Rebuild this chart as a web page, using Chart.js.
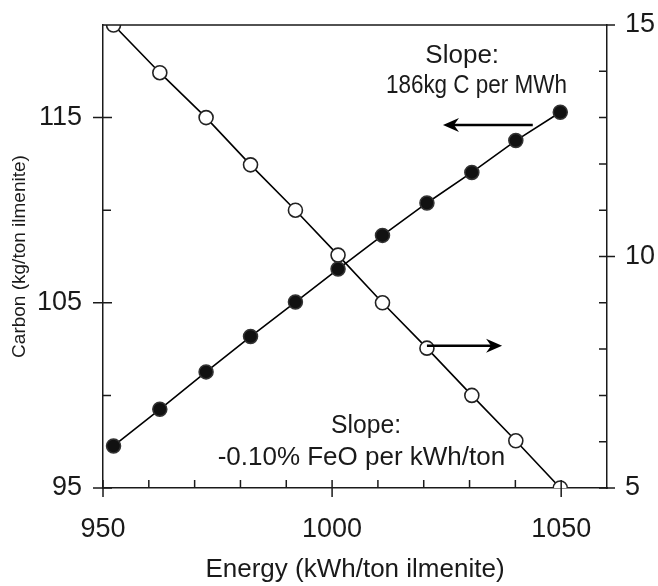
<!DOCTYPE html>
<html>
<head>
<meta charset="utf-8">
<script src="https://cdn.jsdelivr.net/npm/chart.js@4.4.1/dist/chart.umd.min.js"></script>
<style>
  html, body { margin: 0; padding: 0; background: #fff; }
  #wrap { width: 658px; height: 586px; }
</style>
</head>
<body>
<div id="wrap"><canvas id="c" width="658" height="586"></canvas></div>
<script>
// ---- data ----
const energy = [952.3, 962.4, 972.5, 982.2, 992.0, 1001.3, 1011.0, 1020.7, 1030.5, 1040.1, 1049.8];
const carbon = [97.27, 99.25, 101.27, 103.18, 105.04, 106.82, 108.64, 110.39, 112.04, 113.76, 115.29];
const feo = [15.0, 13.97, 13.0, 11.98, 11.0, 10.03, 9.0, 8.02, 7.0, 6.02, 5.0];

const xTicks = [950, 1000, 1050];
const xMinorTicks = [960, 970, 980, 990, 1010, 1020, 1030, 1040];
const leftTicks = [95, 105, 115];
const leftMinorTicks = [100, 110];
const rightTicks = [5, 10, 15];
const rightMinorTicks = [6, 7, 8, 9, 11, 12, 13, 14];

const xTitle = 'Energy (kWh/ton ilmenite)';
const leftTitle = 'Carbon (kg/ton ilmenite)';

// annotation texts: [text, x value, left-axis y value (baseline), max width]
const notes = [
  ['Slope:', 1028.4, 117.95, null],
  ['186kg C per MWh', 1031.5, 116.33, 181],
  ['Slope:', 1007.4, 97.97, 70],
  ['-0.10% FeO per kWh/ton', 1006.4, 96.24, null]
];
// arrows: [x from, x to, y value, axis]
const arrows = [
  [1043.8, 1024.2, 114.6, 'y'],
  [1020.7, 1037.1, 8.07, 'y2']
];

const FONT = "'Liberation Sans', Arial, sans-serif";
const INK = '#1a1a1a';

const points = (ys) => energy.map((x, i) => ({ x: x, y: ys[i] }));

const decor = {
  id: 'decor',
  afterDraw(chart) {
    const ctx = chart.ctx;
    const ca = chart.chartArea;
    const xs = chart.scales.x, ys = chart.scales.y, y2 = chart.scales.y2;
    ctx.save();
    ctx.strokeStyle = INK;
    ctx.lineWidth = 1.5;
    ctx.beginPath();
    ctx.moveTo(ca.left, ca.top); ctx.lineTo(ca.right, ca.top);
    xTicks.forEach(v => { const p = xs.getPixelForValue(v); ctx.moveTo(p, ca.bottom - 8); ctx.lineTo(p, ca.bottom + 9); });
    xMinorTicks.forEach(v => { const p = xs.getPixelForValue(v); ctx.moveTo(p, ca.bottom - 8); ctx.lineTo(p, ca.bottom); });
    leftTicks.forEach(v => { const p = ys.getPixelForValue(v); ctx.moveTo(ca.left - 10, p); ctx.lineTo(ca.left + 9, p); });
    leftMinorTicks.forEach(v => { const p = ys.getPixelForValue(v); ctx.moveTo(ca.left, p); ctx.lineTo(ca.left + 8, p); });
    rightTicks.forEach(v => { const p = y2.getPixelForValue(v); ctx.moveTo(ca.right - 8, p); ctx.lineTo(ca.right + 8, p); });
    rightMinorTicks.forEach(v => { const p = y2.getPixelForValue(v); ctx.moveTo(ca.right - 8, p); ctx.lineTo(ca.right, p); });
    ctx.stroke();

    ctx.fillStyle = '#000';
    ctx.strokeStyle = '#000';
    arrows.forEach(a => {
      const sc = chart.scales[a[3]];
      const x1 = xs.getPixelForValue(a[0]), x2 = xs.getPixelForValue(a[1]);
      const y = sc.getPixelForValue(a[2]);
      const dir = Math.sign(x2 - x1);
      ctx.lineWidth = 2.5;
      ctx.beginPath();
      ctx.moveTo(x1, y); ctx.lineTo(x2 - dir * 8, y);
      ctx.stroke();
      ctx.beginPath();
      ctx.moveTo(x2, y);
      ctx.lineTo(x2 - dir * 16, y - 7);
      ctx.lineTo(x2 - dir * 11, y);
      ctx.lineTo(x2 - dir * 16, y + 7);
      ctx.closePath();
      ctx.fill();
    });

    ctx.fillStyle = INK;
    ctx.font = '26px ' + FONT;
    ctx.textAlign = 'center';
    ctx.textBaseline = 'alphabetic';
    notes.forEach(n => {
      const x = xs.getPixelForValue(n[1]);
      const y = ys.getPixelForValue(n[2]);
      if (n[3]) ctx.fillText(n[0], x, y, n[3]); else ctx.fillText(n[0], x, y);
    });
    ctx.restore();
  }
};

const setTicks = (arr) => (s) => { s.ticks = arr.map(v => ({ value: v })); };
const plain = (v) => String(v);

new Chart(document.getElementById('c'), {
  type: 'scatter',
  data: {
    datasets: [
      {
        label: 'Carbon',
        data: points(carbon),
        yAxisID: 'y',
        showLine: true,
        borderColor: '#000',
        borderWidth: 1.6,
        pointRadius: 7,
        pointBackgroundColor: '#111',
        pointBorderColor: '#333',
        pointBorderWidth: 1.5
      },
      {
        label: 'FeO',
        data: points(feo),
        yAxisID: 'y2',
        showLine: true,
        borderColor: '#000',
        borderWidth: 1.6,
        pointRadius: 7,
        pointBackgroundColor: '#fff',
        pointBorderColor: '#222',
        pointBorderWidth: 1.6
      }
    ]
  },
  options: {
    responsive: false,
    animation: false,
    layout: { padding: { top: 25, left: 0, right: 0, bottom: 0 } },
    plugins: { legend: { display: false }, tooltip: { enabled: false } },
    scales: {
      x: {
        type: 'linear',
        position: 'bottom',
        min: 950, max: 1060,
        afterBuildTicks: setTicks(xTicks),
        afterFit: (s) => { s.height = 98; s.paddingLeft = 0; s.paddingRight = 0; },
        grid: { display: true, drawOnChartArea: false, drawTicks: false },
        border: { display: true, color: INK, width: 1.5 },
        ticks: { color: INK, font: { family: FONT, size: 27 }, padding: 25, maxRotation: 0, callback: plain },
        title: { display: true, text: xTitle, color: INK, font: { family: FONT, size: 26 }, padding: { top: 0, bottom: 1 } }
      },
      y: {
        type: 'linear',
        position: 'left',
        min: 95, max: 120,
        afterBuildTicks: setTicks(leftTicks),
        afterFit: (s) => { s.width = 103; s.paddingTop = 0; s.paddingBottom = 0; },
        grid: { display: true, drawOnChartArea: false, drawTicks: false },
        border: { display: true, color: INK, width: 1.5 },
        ticks: { color: INK, font: { family: FONT, size: 27 }, padding: 21, callback: plain },
        title: { display: true, text: leftTitle, color: INK, font: { family: FONT, size: 19 }, padding: { top: 8, bottom: 0 } }
      },
      y2: {
        type: 'linear',
        position: 'right',
        min: 5, max: 15,
        afterBuildTicks: setTicks(rightTicks),
        afterFit: (s) => { s.width = 51; s.paddingTop = 0; s.paddingBottom = 0; },
        grid: { display: true, drawOnChartArea: false, drawTicks: false },
        border: { display: true, color: INK, width: 1.5 },
        ticks: { color: INK, font: { family: FONT, size: 27 }, padding: 18, callback: plain }
      }
    }
  },
  plugins: [decor]
});
</script>
</body>
</html>
